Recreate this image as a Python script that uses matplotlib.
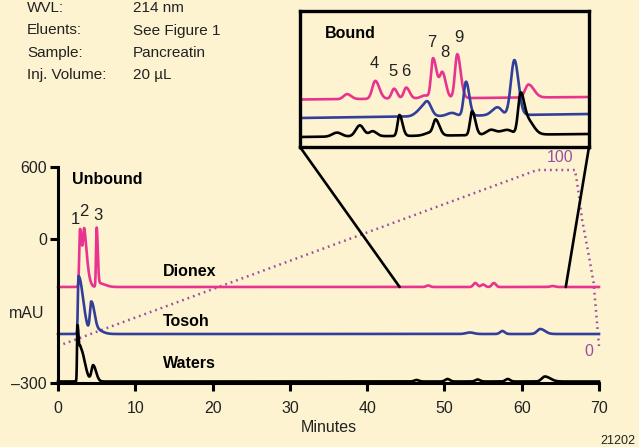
import numpy as np
import matplotlib.pyplot as plt
from matplotlib.patches import ConnectionPatch

# ---------------- data ----------------
# main chromatograms: baseline offset + peak table (time, height, width left, width right)
dionex_base = 96
dionex_peaks = [(2.85, 58, 0.10, 0.25), (3.40, 53, 0.15, 0.28), (3.90, 9, 0.20, 0.30),
                (5.00, 57, 0.08, 0.14), (5.20, 4, 0.20, 0.80),
                (47.9, 1.5, 0.25, 0.25), (54.0, 4, 0.25, 0.25), (55.0, 2.5, 0.25, 0.25),
                (56.4, 4, 0.25, 0.25), (64.0, 1, 0.30, 0.30)]
tosoh_base = 49
tosoh_peaks = [(2.65, 58, 0.08, 0.60), (4.30, 30, 0.17, 0.38), (4.80, 5, 0.30, 0.80),
               (53.3, 1.5, 0.50, 0.50), (57.5, 3, 0.30, 0.30), (62.4, 5, 0.40, 0.60)]
waters_base = 1.5
waters_peaks = [(2.52, 55, 0.06, 0.15), (2.90, 33, 0.15, 0.55), (4.55, 16, 0.22, 0.38),
                (46.4, 1.5, 0.30, 0.30), (50.4, 2.5, 0.30, 0.30), (54.3, 2, 0.30, 0.30),
                (58.2, 2.5, 0.30, 0.30), (63.0, 5, 0.40, 0.70)]

# gradient (%B)
grad_time = [0, 62, 66.9, 67.3, 67.8, 68.7, 69.3, 70]
grad_pct = [0, 100, 100, 89, 72, 51, 36, 0]
grad_zero, grad_scale = 37, 1.76

# inset (bound region) traces: baseline start/end + peak table
in_pink_base = (47.5, 50)
in_pink_peaks = [(47.7, 5, 0.25, 0.30), (49.8, 18, 0.22, 0.30), (51.2, 10, 0.18, 0.22),
                 (52.1, 11, 0.18, 0.25), (53.5, 3, 0.30, 0.25), (54.1, 40, 0.15, 0.27),
                 (54.8, 25, 0.20, 0.25), (55.9, 44, 0.17, 0.25), (61.2, 13, 0.25, 0.40)]
in_blue_base = (29, 33)
in_blue_peaks = [(53.1, 5, 0.35, 0.20), (53.65, 15, 0.30, 0.30), (55.5, 3, 0.35, 0.30),
                 (56.55, 34, 0.17, 0.24), (58.9, 8, 0.40, 0.30), (60.15, 55, 0.26, 0.30)]
in_black_base = (10, 13)
in_black_peaks = [(46.95, 4, 0.35, 0.35), (48.65, 11, 0.30, 0.30), (49.6, 5, 0.25, 0.30),
                  (51.6, 21, 0.14, 0.22), (53.9, 3, 0.40, 0.30), (54.3, 15, 0.18, 0.28),
                  (57.0, 24, 0.15, 0.24), (58.4, 5, 0.35, 0.35), (59.6, 5, 0.50, 0.40),
                  (60.6, 38, 0.18, 0.25), (61.1, 15, 0.30, 0.45)]

peak_labels = ['1', '2', '3']
peak_label_pos = [(2.2, 163), (3.36, 171), (5.17, 168)]
bound_labels = ['4', '5', '6', '7', '8', '9']
bound_label_pos = [(49.7, 83), (51.1, 75), (52.1, 75), (54.0, 104), (55.0, 94), (56.0, 109)]

header_keys = ['WVL:', 'Eluents:', 'Sample:', 'Inj. Volume:']
header_vals = ['214 nm', 'See Figure 1', 'Pancreatin', '20 µL']

PINK = '#e8338f'
BLUE = '#323f9a'
PURPLE = '#9a4ea3'
BG = '#fdf3d0'
TXT = '#222222'

plt.rcParams['font.family'] = ['Liberation Sans', 'DejaVu Sans']
plt.rcParams['font.size'] = 11


def trace(t, base, peaks):
    y = np.zeros_like(t) + base
    for c, h, sl, sr in peaks:
        s = np.where(t < c, sl, sr)
        y += h * np.exp(-0.5 * ((t - c) / s) ** 2)
    return y


W, H = 639, 447
fig = plt.figure(figsize=(W / 100, H / 100), dpi=100, facecolor=BG)

# ---------------- main axes ----------------
ax = fig.add_axes([58 / W, (H - 383) / H, 541 / W, 216 / H])
ax.set_facecolor('none')
t = np.linspace(0, 70, 7001)
ax.plot(grad_time, np.array(grad_pct) * grad_scale + grad_zero, color=PURPLE,
        lw=1.8, linestyle=(0, (0.7, 1.6)), clip_on=False)
ax.plot(t, trace(t, dionex_base, dionex_peaks), color=PINK, lw=1.9, clip_on=False)
ax.plot(t, trace(t, tosoh_base, tosoh_peaks), color=BLUE, lw=1.9, clip_on=False)
ax.plot(t, trace(t, waters_base, waters_peaks), color='black', lw=1.9, clip_on=False)

ax.set_xlim(0, 70)
ax.set_ylim(0, 216)
ax.set_xticks(range(0, 71, 10))
ax.set_yticks([0, 144, 216])
ax.set_yticklabels(['\u2013300', '0', '600'])
for s in ['top', 'right']:
    ax.spines[s].set_visible(False)
for s in ['left', 'bottom']:
    ax.spines[s].set_linewidth(2.2)
ax.tick_params(direction='out', length=6, width=2.2, labelsize=11.5, labelcolor=TXT)
ax.tick_params(axis='x', pad=7)
ax.tick_params(axis='y', pad=2)
ax.set_xlabel('Minutes', fontsize=11.5, labelpad=3, color=TXT)
fig.text(44 / W, 1 - 313 / H, 'mAU', ha='right', va='center', fontsize=11.5, color=TXT)

ax.text(1.81, 203, 'Unbound', fontweight='bold', fontsize=11.5, va='center')
ax.text(13.6, 112, 'Dionex', fontweight='bold', fontsize=11.5, va='center')
ax.text(13.6, 61, 'Tosoh', fontweight='bold', fontsize=11.5, va='center')
ax.text(13.6, 20, 'Waters', fontweight='bold', fontsize=11.5, va='center')
for lab, (x, y) in zip(peak_labels, peak_label_pos):
    ax.text(x, y, lab, ha='center', va='center', fontsize=12, color=TXT)
ax.text(64.9, 226, '100', color=PURPLE, ha='center', va='center', fontsize=11.5, clip_on=False)
ax.text(68.7, 32, '0', color=PURPLE, ha='center', va='center', fontsize=11.5)

# ---------------- inset ----------------
ins = fig.add_axes([300 / W, (H - 147) / H, 289 / W, 136 / H])
ins.set_facecolor(BG)
ti = np.linspace(44.2, 65.7, 3001)
for base, peaks, col in [(in_pink_base, in_pink_peaks, PINK),
                         (in_blue_base, in_blue_peaks, BLUE),
                         (in_black_base, in_black_peaks, 'black')]:
    b = base[0] + (base[1] - base[0]) * (ti - ti[0]) / (ti[-1] - ti[0])
    ins.plot(ti, trace(ti, 0, peaks) + b, color=col, lw=1.9)
ins.set_xlim(44.2, 65.7)
ins.set_ylim(0, 136)
ins.set_xticks([])
ins.set_yticks([])
for s in ins.spines.values():
    s.set_linewidth(2.4)
ins.text(46.06, 113, 'Bound', fontweight='bold', fontsize=11.5, va='center')
for lab, (x, y) in zip(bound_labels, bound_label_pos):
    ins.text(x, y, lab, ha='center', va='center', fontsize=12, color=TXT)

for xa, xm in [(0, 44.2), (1, 65.7)]:
    con = ConnectionPatch(xyA=(xa, 0), coordsA=ins.transAxes,
                          xyB=(xm, dionex_base), coordsB=ax.transData,
                          color='black', lw=1.9)
    fig.add_artist(con)

# ---------------- header ----------------
for i, (k, v) in enumerate(zip(header_keys, header_vals)):
    y = 1 - (8 + 22.5 * i) / H
    fig.text(27 / W, y, k, va='center', fontsize=11, color=TXT)
    fig.text(133 / W, y, v, va='center', fontsize=11, color=TXT)

fig.text(600 / W, 1 - 435 / H, '21202', va='top', fontsize=9, color=TXT)

fig.savefig('out.png', dpi=100, facecolor=BG)
